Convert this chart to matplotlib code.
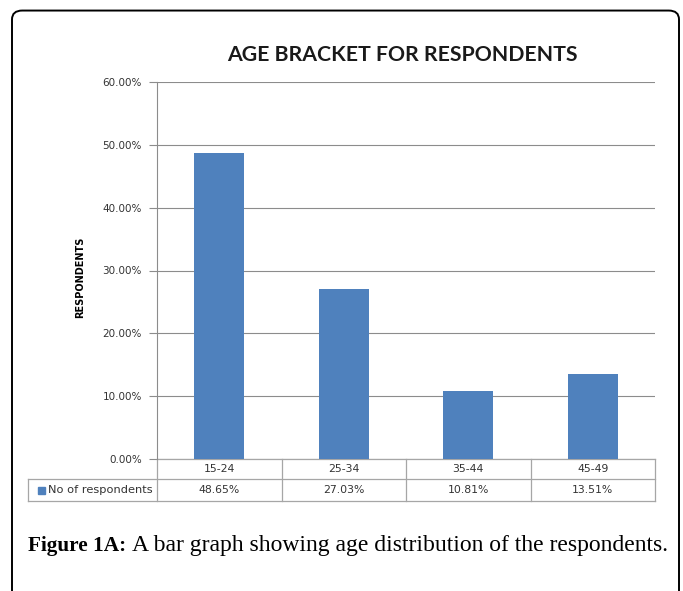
import matplotlib
matplotlib.use("Agg")
import matplotlib.pyplot as plt
from matplotlib.patches import FancyBboxPatch, Rectangle

categories = ["15-24", "25-34", "35-44", "45-49"]
values = [48.65, 27.03, 10.81, 13.51]
value_labels = ["48.65%", "27.03%", "10.81%", "13.51%"]
yticks = [0, 10, 20, 30, 40, 50, 60]
series_name = "No of respondents"
title = "AGE BRACKET FOR RESPONDENTS"
ylabel = "RESPONDENTS"

W, H = 683, 591
fig = plt.figure(figsize=(W / 100, H / 100), dpi=100)

def px(x0, y0, x1, y1):
    return [x0 / W, 1 - y1 / H, (x1 - x0) / W, (y1 - y0) / H]

# outer rounded border
border = FancyBboxPatch((12 / W, -0.05), (679 - 12) / W, (H + 30 - 11) / H,
                        boxstyle="round,pad=0,rounding_size=0.015",
                        transform=fig.transFigure, fill=False, ec="black", lw=1.4)
fig.patches.append(border)

bar_color = "#4F81BD"
grid_color = "#8C8C8C"
tab_color = "#A6A6A6"
txt_color = "#333333"

ax = fig.add_axes(px(157, 82, 655, 459))
x = range(len(categories))
ax.bar(x, values, width=0.4, color=bar_color, zorder=3)
ax.set_xlim(-0.5, len(categories) - 0.5)
ax.set_ylim(0, 60)
ax.set_yticks(yticks)
ax.set_yticklabels([f"{v:.2f}%" for v in yticks], fontsize=7.5, color=txt_color,
                   family="DejaVu Sans")
ax.tick_params(axis="y", length=6, color=grid_color, pad=5, width=0.8)
ax.tick_params(axis="x", length=0, labelbottom=False)
ax.grid(axis="y", color=grid_color, lw=0.8, zorder=0)
for s in ["top", "right", "bottom"]:
    ax.spines[s].set_visible(False)
ax.spines["left"].set_color(grid_color)
ax.spines["left"].set_linewidth(0.8)

ax.set_title(title, fontsize=15.3, fontweight="bold", family="Lato", pad=15,
             color="#1a1a1a", x=(402 - 157) / 498)
ax.set_ylabel(ylabel, fontsize=7.0, fontweight="bold", family="DejaVu Sans",
              labelpad=2)
ax.yaxis.set_label_coords((85 - 157) / 498, (459 - 277) / (459 - 82))

# data table below axes
axh = 459 - 82
r1 = -20 / axh
r2 = -42 / axh
xl = (28 - 157) / 498
n = len(categories)
kw = dict(transform=ax.transAxes, clip_on=False, color=tab_color, lw=0.9)
ax.plot([0, 1], [0, 0], **kw)
ax.plot([xl, 1], [r1, r1], **kw)
ax.plot([xl, 1], [r2, r2], **kw)
for i in range(n + 1):
    ax.plot([i / n, i / n], [0, r2], **kw)
ax.plot([xl, xl], [r1, r2], **kw)
for i, (c, v) in enumerate(zip(categories, value_labels)):
    cx = (i + 0.5) / n
    ax.text(cx, r1 / 2, c, transform=ax.transAxes, ha="center", va="center",
            fontsize=7.8, color=txt_color)
    ax.text(cx, (r1 + r2) / 2, v, transform=ax.transAxes, ha="center", va="center",
            fontsize=7.8, color=txt_color)
ax.add_patch(Rectangle((xl + 10 / 498, (r1 + r2) / 2 - 3.5 / axh), 7 / 498, 7 / axh,
                       transform=ax.transAxes, clip_on=False, color=bar_color))
ax.text(xl + 20 / 498, (r1 + r2) / 2, series_name, transform=ax.transAxes,
        ha="left", va="center", fontsize=8.2, color=txt_color)

# caption
t1 = fig.text(28 / W, 1 - 546 / H, "Figure 1A:", fontsize=15.3, fontweight="bold",
              family="Liberation Serif", va="center", ha="left")
fig.canvas.draw()
bb = t1.get_window_extent()
fig.text(bb.x1 / W + 6 / W, 1 - 546 / H,
         "A bar graph showing age distribution of the respondents.",
         fontsize=17.0, family="Liberation Serif", va="center", ha="left")

fig.savefig("out.png", dpi=100)
